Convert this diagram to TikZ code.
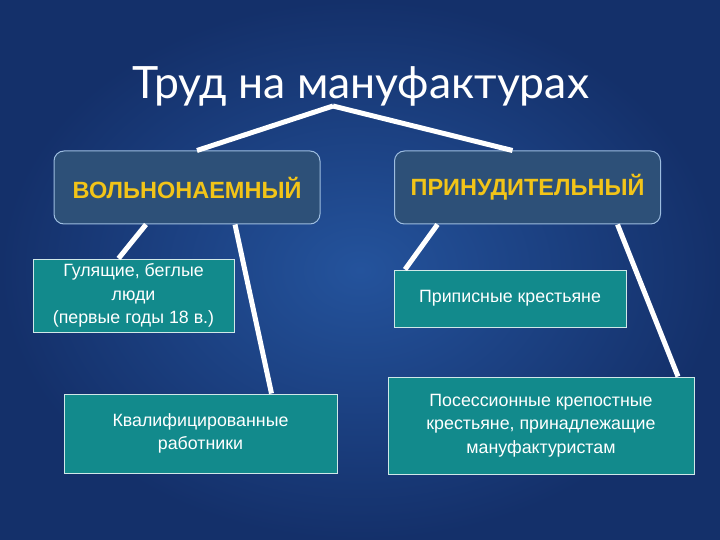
\documentclass[tikz,border=0pt]{standalone}
\usepackage{fontspec}
\setmainfont{Liberation Sans}
\newfontfamily\titlefont{Lato}
\usetikzlibrary{positioning}
\definecolor{bgmid}{HTML}{24539C}
\definecolor{bgdark}{HTML}{14306A}
\definecolor{kindfill}{HTML}{2D5078}
\definecolor{kindedge}{HTML}{9DBDE0}
\definecolor{kindtext}{HTML}{F2C418}
\definecolor{itemteal}{HTML}{128A8C}

\begin{document}
\begin{tikzpicture}[x=1pt, y=-1pt,
      every node/.style={inner sep=0pt},
      kind/.style={draw=kindedge, line width=1pt, fill=kindfill, rounded corners=10pt,
                   minimum width=266pt, minimum height=73pt, text=kindtext,
                   font=\bfseries\fontsize{23.5}{26}\selectfont},
      item/.style={draw=white!80!itemteal, line width=1pt, fill=itemteal, align=center,
                   text=white, font=\fontsize{17.8}{23.5}\selectfont},
      link/.style={white, line width=5pt}]

   \useasboundingbox (0,0) rectangle (720,540);
   \shade[inner color=bgmid, outer color=bgdark] (0,0) rectangle (720,540);

   \node[text=white, font=\titlefont\fontsize{44.5}{48}\selectfont] (title) at (361,86) {Труд на мануфактурах};
   \coordinate (peak) at (333,106);

   \node[kind] (free) at (187,187.5) {ВОЛЬНОНАЕМНЫЙ};
   \node[kind] (forced) at (527.5,187.5) {ПРИНУДИТЕЛЬНЫЙ};

   \node[item, minimum width=201pt, minimum height=73pt] (runaway) at (133.5,295.5)
      {Гулящие, беглые\\люди\\(первые годы 18 в.)};
   \node[item, minimum width=273pt, minimum height=79pt] (skilled) at (200.5,433.5)
      {Квалифицированные\\работники};
   \node[item, minimum width=232pt, minimum height=57pt] (ascribed) at (510,298.5)
      {Приписные крестьяне};
   \node[item, minimum width=306pt, minimum height=97pt] (possess) at (541,425.5)
      {Посессионные крепостные\\крестьяне, принадлежащие\\мануфактуристам};

   \draw[link] (peak) -- ([xshift=10pt]free.north);
   \draw[link] (peak) -- ([xshift=-15pt]forced.north);
   \draw[link] ([xshift=-41pt]free.south) -- ([xshift=-15pt]runaway.north);
   \draw[link] ([xshift=48pt]free.south) -- ([xshift=71pt]skilled.north);
   \draw[link] ([xshift=-90pt]forced.south) -- ([xshift=-105pt]ascribed.north);
   \draw[link] ([xshift=90pt]forced.south) -- ([xshift=137pt]possess.north);
\end{tikzpicture}
\end{document}
